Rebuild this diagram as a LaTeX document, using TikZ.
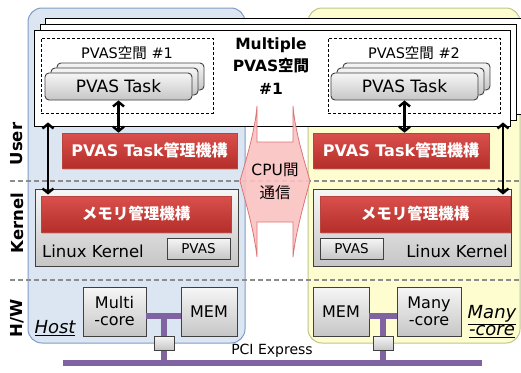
\documentclass[tikz,border=0pt]{standalone}
\usepackage{fontspec}
\setmainfont{DejaVu Sans}
\newfontfamily\cjk{Noto Sans CJK JP}
\usetikzlibrary{arrows.meta,shadows}
\definecolor{hostfill}{HTML}{DCE6F2}
\definecolor{hostdraw}{HTML}{7F9CC6}
\definecolor{mcfill}{HTML}{FDFDCF}
\definecolor{mcdraw}{HTML}{BCC68A}
\definecolor{redtop}{HTML}{D9504C}
\definecolor{redbot}{HTML}{B52E2A}
\definecolor{reddraw}{HTML}{B84440}
\definecolor{greytop}{HTML}{F6F6F6}
\definecolor{greybot}{HTML}{C6C6C6}
\definecolor{greydraw}{HTML}{404040}
\definecolor{pinkfill}{HTML}{FBC2C2}
\definecolor{pinkdraw}{HTML}{DD7474}
\definecolor{busc}{HTML}{8064A2}
\definecolor{sepc}{HTML}{8C8C8C}
\begin{document}
\begin{tikzpicture}[x=1pt,y=-1pt,
  sz/.style 2 args={minimum width=#1pt,minimum height=#2pt,inner sep=0pt},
  fs/.style={font=\fontsize{#1}{#1}\selectfont},
  regionbox/.style={rounded corners=14pt,line width=1pt},
  wbox/.style={draw=black,fill=white,line width=0.9pt,sz={476}{96}},
  dbox/.style={draw=black,dashed,line width=0.9pt,dash pattern=on 3pt off 2pt},
  greybox/.style={draw=greydraw,line width=0.9pt,top color=greytop,bottom color=greybot},
  task/.style={greybox,rounded corners=4pt,sz={147}{27}},
  redbox/.style={draw=reddraw,line width=0.6pt,top color=redtop,bottom color=redbot,text=white,
     drop shadow={shadow xshift=1.2pt,shadow yshift=-1.5pt,opacity=0.35}},
  sepline/.style={draw=sepc,line width=1.6pt,dash pattern=on 5pt off 3pt},
  bus/.style={draw=busc,line width=6pt},
  dbl/.style={line width=2.4pt,<->,>={Straight Barb[length=4.5pt,width=11pt]}},
  side/.style={rotate=90,font=\bfseries\fontsize{16.5}{18}\selectfont}
]
\useasboundingbox (0,0) rectangle (521,372);

% region backgrounds
\node[regionbox,draw=hostdraw,fill=hostfill,sz={217}{335}] (host) at (136.5,175.5) {};
\node[regionbox,draw=mcdraw,fill=mcfill,sz={212}{335}] (mcbox) at (414,175.5) {};

% separators
\coordinate (sl1) at (10,181); \coordinate (sr1) at (521,181);
\coordinate (sl2) at (10,280); \coordinate (sr2) at (521,280);
\draw[sepline] (sl1) -- (sr1);
\draw[sepline] (sl2) -- (sr2);

% stacked PVAS space boxes
\node[wbox] (w3) at (283,66) {};
\node[wbox] (w2) at (278,72) {};
\node[wbox] (w1) at (272,78) {};

\node[dbox,sz={172}{75}] (d1) at (127,75.5) {};
\node[dbox,sz={172}{75}] (d2) at (414,75.5) {};
\node[fs=14.5] (l1) at (127,53) {PVAS{\cjk 空間} \#1};
\node[fs=14.5] (l2) at (414,53) {PVAS{\cjk 空間} \#2};

\node[task] (t1c) at (130.5,76.5) {};
\node[task] (t1b) at (124.5,81.5) {};
\node[task,fs=17] (t1) at (118.5,86.5) {PVAS Task};
\node[task] (t2c) at (416.5,76.5) {};
\node[task] (t2b) at (410.5,81.5) {};
\node[task,fs=17] (t2) at (404.5,86.5) {PVAS Task};

\node[align=center,font=\bfseries\fontsize{15.5}{22.5}\selectfont] (mult) at (271,66) {Multiple\\PVAS{\cjk 空間}\\\#1};

% task managers
\node[redbox,sz={175}{35},font=\bfseries\fontsize{16}{16}\selectfont] (r1) at (149.5,150.5) {PVAS Task{\cjk 管理機構}};
\node[redbox,sz={176}{35},font=\bfseries\fontsize{16}{16}\selectfont] (r2) at (401,150.5) {PVAS Task{\cjk 管理機構}};

% kernels
\node[greybox,sz={203}{77}] (k1) at (136.5,227.5) {};
\node[greybox,sz={198}{77}] (k2) at (412,227.5) {};
\node[redbox,sz={190}{36},font=\bfseries\fontsize{15.5}{15.5}\selectfont] (m1) at (136,214) {{\cjk メモリ管理機構}};
\node[redbox,sz={190}{36},font=\bfseries\fontsize{15.5}{15.5}\selectfont] (m2) at (415,214) {{\cjk メモリ管理機構}};
\node[greybox,sz={63}{21},fs=13.5] (p1) at (198.5,248.5) {PVAS};
\node[greybox,sz={63}{21},fs=13.5] (p2) at (351.5,248.5) {PVAS};
\node[anchor=west,inner sep=0pt,fs=16.5] (lk1) at (42,251.5) {Linux Kernel};
\node[anchor=east,inner sep=0pt,fs=16.5] (lk2) at (508,251.5) {Linux Kernel};

% CPU communication
\path[draw=pinkdraw,fill=pinkfill,line width=0.8pt,fill opacity=0.9]
  (257,142) -- (257,106) .. controls (255,132) and (245,163) .. (240,181)
  .. controls (245,200) and (254,230) .. (257,257) -- (257,222) -- (293,222) -- (293,257)
  .. controls (296,230) and (305,200) .. (310,181)
  .. controls (305,163) and (295,132) .. (293,106) -- (293,142) -- cycle;
\node[align=center,font=\fontsize{15.5}{23}\selectfont] (cpu) at (275,181.5) {CPU{\cjk 間}\\{\cjk 通信}};

% arrows
\coordinate (ax1) at (48,0);
\coordinate (ax2) at (503,0);
\draw[dbl,shorten <=-4pt,shorten >=-6pt] (ax1 |- w1.south) -- (ax1 |- k1.north);
\draw[dbl,shorten <=-4pt,shorten >=-6pt] (ax2 |- w1.south) -- (ax2 |- k2.north);
\draw[dbl] (t1.south) -- (t1.south |- r1.north);
\draw[dbl] (t2.south) -- (t2.south |- r2.north);

% hardware
\coordinate (j1) at (164,316); \coordinate (b1) at (164,363);
\coordinate (j2) at (383,316); \coordinate (b2) at (383,363);
\coordinate (pl) at (63,363); \coordinate (pr) at (482,363);
\node[greybox,sz={63}{49},align=center,font=\fontsize{16}{17}\selectfont] (mc) at (114.5,311.5) {Multi\\-core};
\node[greybox,sz={56}{49},fs=16] (mem1) at (209,311.5) {MEM};
\node[greybox,sz={56}{49},fs=16] (mem2) at (341,311.5) {MEM};
\node[greybox,sz={64}{49},align=center,font=\fontsize{16}{17}\selectfont] (mny) at (429,311.5) {Many\\-core};
\draw[bus] (mc.east |- j1) -- (mem1.west |- j1);
\draw[bus] (mem2.east |- j2) -- (mny.west |- j2);
\draw[bus] (j1) -- (b1);
\draw[bus] (j2) -- (b2);
\draw[bus] (pl) -- (pr);
\node[greybox,sz={20}{14}] (s1) at (164,343) {};
\node[greybox,sz={20}{14}] (s2) at (383,343) {};
\node[fs=14] (pci) at (272,351) {PCI Express};

\node[inner sep=0pt,font=\itshape\fontsize{18}{17}\selectfont] (hostl) at (55,328) {\underline{Host}};
\node[inner sep=0pt,align=center,font=\itshape\fontsize{18}{17}\selectfont] (mcl) at (492,322) {\underline{Many}\\\underline{-core}};

% side labels
\node[side] (lu) at (17,144) {User};
\node[side] (lkn) at (17,223) {Kernel};
\node[side] (lhw) at (17,318) {H/W};
\end{tikzpicture}
\end{document}
